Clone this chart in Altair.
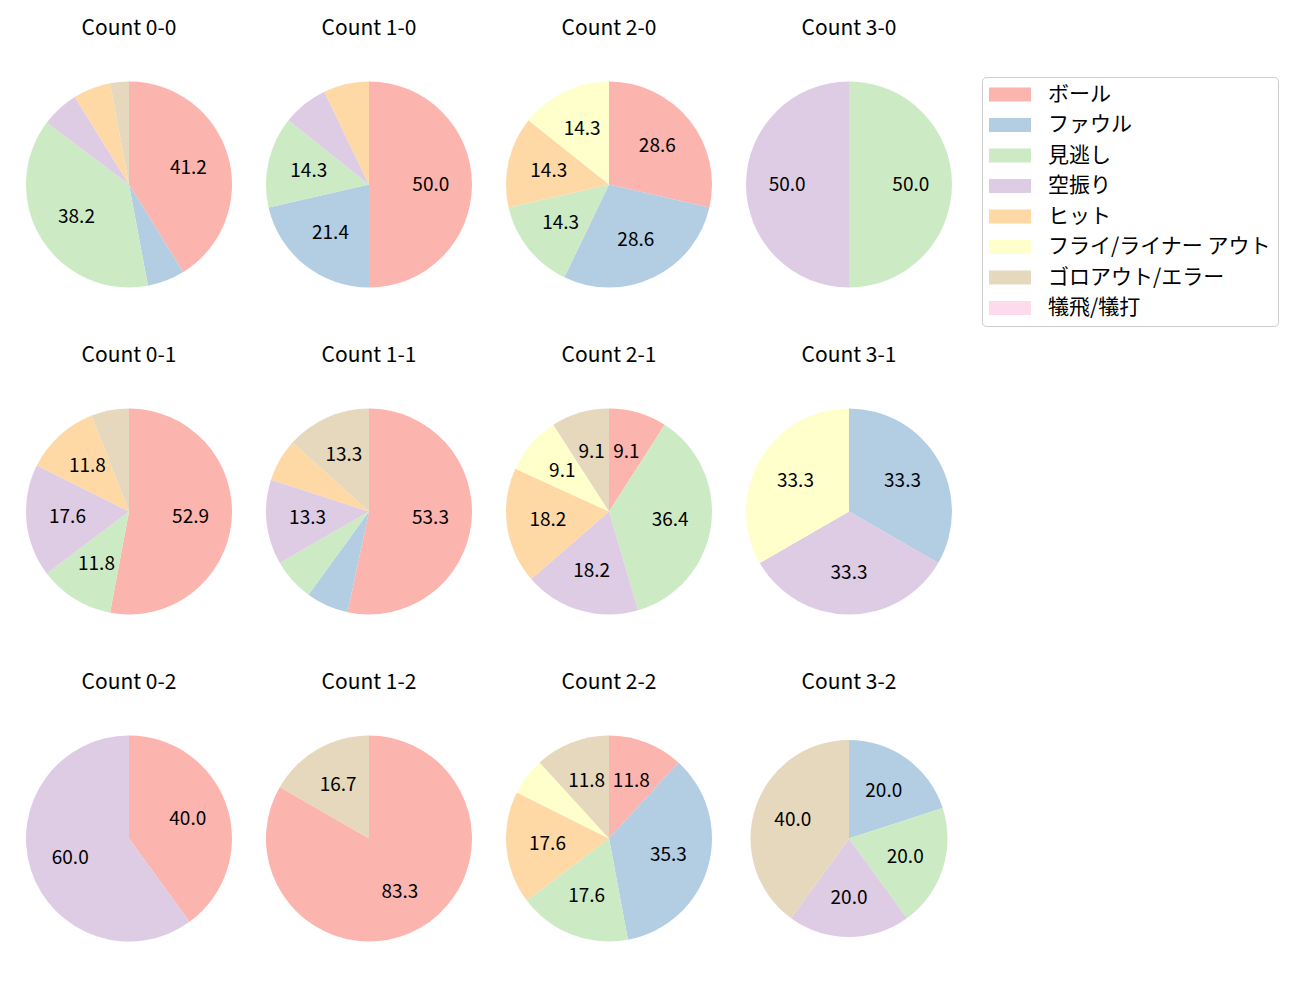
import altair as alt
import pandas as pd

FONT = "Noto Sans CJK JP"

categories = ["ボール", "ファウル", "見逃し", "空振り", "ヒット",
              "フライ/ライナー アウト", "ゴロアウト/エラー", "犠飛/犠打"]
colors = ["#fbb4ae", "#b3cde3", "#ccebc5", "#decbe4", "#fed9a6",
          "#ffffcc", "#e5d8bd", "#fddaec"]

titles = ["Count 0-0", "Count 1-0", "Count 2-0", "Count 3-0",
          "Count 0-1", "Count 1-1", "Count 2-1", "Count 3-1",
          "Count 0-2", "Count 1-2", "Count 2-2", "Count 3-2"]

counts_0_0 = [14, 2, 13, 2, 2, 0, 1, 0]
counts_1_0 = [7, 3, 2, 1, 1, 0, 0, 0]
counts_2_0 = [2, 2, 1, 0, 1, 1, 0, 0]
counts_3_0 = [0, 0, 1, 1, 0, 0, 0, 0]
counts_0_1 = [9, 0, 2, 3, 2, 0, 1, 0]
counts_1_1 = [8, 1, 1, 2, 1, 0, 2, 0]
counts_2_1 = [1, 0, 4, 2, 2, 1, 1, 0]
counts_3_1 = [0, 1, 0, 1, 0, 1, 0, 0]
counts_0_2 = [2, 0, 0, 3, 0, 0, 0, 0]
counts_1_2 = [5, 0, 0, 0, 0, 0, 1, 0]
counts_2_2 = [2, 6, 3, 0, 3, 1, 2, 0]
counts_3_2 = [0, 1, 1, 1, 0, 0, 2, 0]

all_counts = [counts_0_0, counts_1_0, counts_2_0, counts_3_0,
              counts_0_1, counts_1_1, counts_2_1, counts_3_1,
              counts_0_2, counts_1_2, counts_2_2, counts_3_2]
radii = [103, 103, 103, 103,
         103, 103, 103, 103,
         103, 103, 103, 98.5]

PW, PH = 240, 327
CX, CY, TY = 116, 171.5, 15.5


def make_panel(title, counts, radius):
    df = pd.DataFrame({"category": categories,
                       "idx": list(range(len(categories))),
                       "count": counts})
    df = df[df["count"] > 0].copy()
    total = df["count"].sum()
    df["pct"] = df["count"] / total * 100
    df["label"] = [f"{p:.1f}" if p >= 8 else "" for p in df["pct"]]

    color = alt.Color("category:N",
                      scale=alt.Scale(domain=categories, range=colors),
                      legend=alt.Legend(title=None))
    base = alt.Chart(df).encode(
        theta=alt.Theta("count:Q", stack=True),
        order=alt.Order("idx:Q", sort="ascending"),
    )
    arc = base.mark_arc(outerRadius=radius).encode(
        color=color, x=alt.value(CX), y=alt.value(CY))
    txt = base.mark_text(radius=radius * 0.6, font=FONT, fontSize=19,
                         color="black").encode(
        text="label:N", x=alt.value(CX), y=alt.value(CY))
    ttl = alt.Chart(pd.DataFrame({"t": [title]})).mark_text(
        font=FONT, fontSize=21, color="black").encode(
        text="t:N", x=alt.value(CX), y=alt.value(TY))
    return alt.layer(arc, txt, ttl).properties(width=PW, height=PH)


panels = [make_panel(t, c, r) for t, c, r in zip(titles, all_counts, radii)]
rows = [alt.hconcat(*panels[i * 4:(i + 1) * 4], spacing=0) for i in range(3)]
chart = alt.vconcat(*rows, spacing=0).configure_view(
    strokeWidth=0
).configure_legend(
    orient="none", legendX=969, legendY=64, padding=7,
    strokeColor="#cccccc", fillColor="white", cornerRadius=4,
    symbolType="M-1,-0.3333H1V0.3333H-1Z", symbolSize=1764,
    symbolStrokeWidth=0, symbolOpacity=1, clipHeight=21, rowPadding=8.5,
    labelFont=FONT, labelFontSize=21, labelColor="black", labelLimit=400,
    labelOffset=17
)

chart.save("out.html", embed_options={"renderer": "svg", "actions": False})
